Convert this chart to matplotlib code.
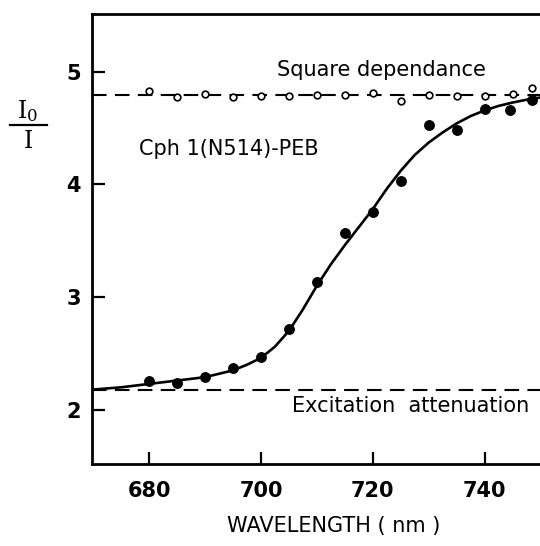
import matplotlib
matplotlib.use("Agg")
import matplotlib.pyplot as plt
from matplotlib.lines import Line2D

# ---- data ----
wl_filled = [680, 685, 690, 695, 700, 705, 710, 715, 720, 725, 730, 735, 740, 744.5, 748.5]
ratio_filled = [2.26, 2.24, 2.29, 2.37, 2.47, 2.72, 3.13, 3.57, 3.75, 4.03, 4.53, 4.48, 4.67, 4.66, 4.75]

wl_open = [680, 685, 690, 695, 700, 705, 710, 715, 720, 725, 730, 735, 740, 745, 748.5]
ratio_open = [4.83, 4.77, 4.80, 4.77, 4.78, 4.78, 4.79, 4.79, 4.81, 4.74, 4.79, 4.78, 4.78, 4.80, 4.85]

wl_fit = [670, 675, 680, 685, 690, 695, 697.5, 700, 702.5, 705, 707.5, 710, 712.5, 715,
          717.5, 720, 722.5, 725, 727.5, 730, 732.5, 735, 737.5, 740, 742.5, 745, 747.5, 750]
ratio_fit = [2.18, 2.20, 2.23, 2.26, 2.29, 2.35, 2.40, 2.46, 2.56, 2.70, 2.89, 3.10, 3.29, 3.46,
             3.62, 3.78, 3.96, 4.12, 4.26, 4.37, 4.46, 4.54, 4.605, 4.655, 4.695, 4.725, 4.75, 4.77]

square_level = 4.79
attenuation_level = 2.18

x_ticks = [680, 700, 720, 740]
y_ticks = [2, 3, 4, 5]

# ---- figure ----
fig = plt.figure(figsize=(5.40, 5.46), dpi=100)
ax = fig.add_axes([92/540, 82/546, 448/540, 450/546])

ax.set_xlim(669.8, 749.9)
ax.set_ylim(1.52, 5.51)

dash = (0, (7, 4))
ax.axhline(square_level, color='black', lw=1.5, linestyle=dash)
ax.axhline(attenuation_level, color='black', lw=1.5, linestyle=dash)

ax.plot(wl_fit, ratio_fit, color='black', lw=1.9, solid_joinstyle='round')
ax.plot(wl_filled, ratio_filled, 'o', color='black', ms=6.8, clip_on=False)
ax.plot(wl_open, ratio_open, 'o', mfc='white', mec='black', mew=1.2, ms=4.8, clip_on=False)

ax.set_xticks(x_ticks)
ax.set_yticks(y_ticks)
ax.tick_params(direction='in', length=9, width=1.6, labelsize=15, pad=8)
ax.tick_params(axis='x', pad=12)
for lab in ax.get_xticklabels() + ax.get_yticklabels():
    lab.set_fontweight('bold')

for s in ['left', 'bottom', 'top']:
    ax.spines[s].set_linewidth(2)
ax.spines['right'].set_visible(False)

ax.text(721.5, 5.01, 'Square dependance', fontsize=15, ha='center', va='center')
ax.text(694.3, 4.31, 'Cph 1(N514)-PEB', fontsize=15, ha='center', va='center')
ax.text(726.8, 2.03, 'Excitation  attenuation', fontsize=15, ha='center', va='center')

fig.text(334/540, 1 - 526/546, 'WAVELENGTH ( nm )', fontsize=15, ha='center', va='center')

# y label as a fraction I0 / I
fig.text(28/540, 1 - 111/546, r'$\mathregular{I_0}$', fontsize=17, ha='center', va='center',
         family='DejaVu Serif')
fig.add_artist(Line2D([10/540, 47/540], [1 - 125/546, 1 - 125/546], color='black', lw=1.6,
                      transform=fig.transFigure))
fig.text(28/540, 1 - 142/546, 'I', fontsize=17, ha='center', va='center', family='DejaVu Serif')

fig.savefig('out.png', dpi=100, facecolor='white')
